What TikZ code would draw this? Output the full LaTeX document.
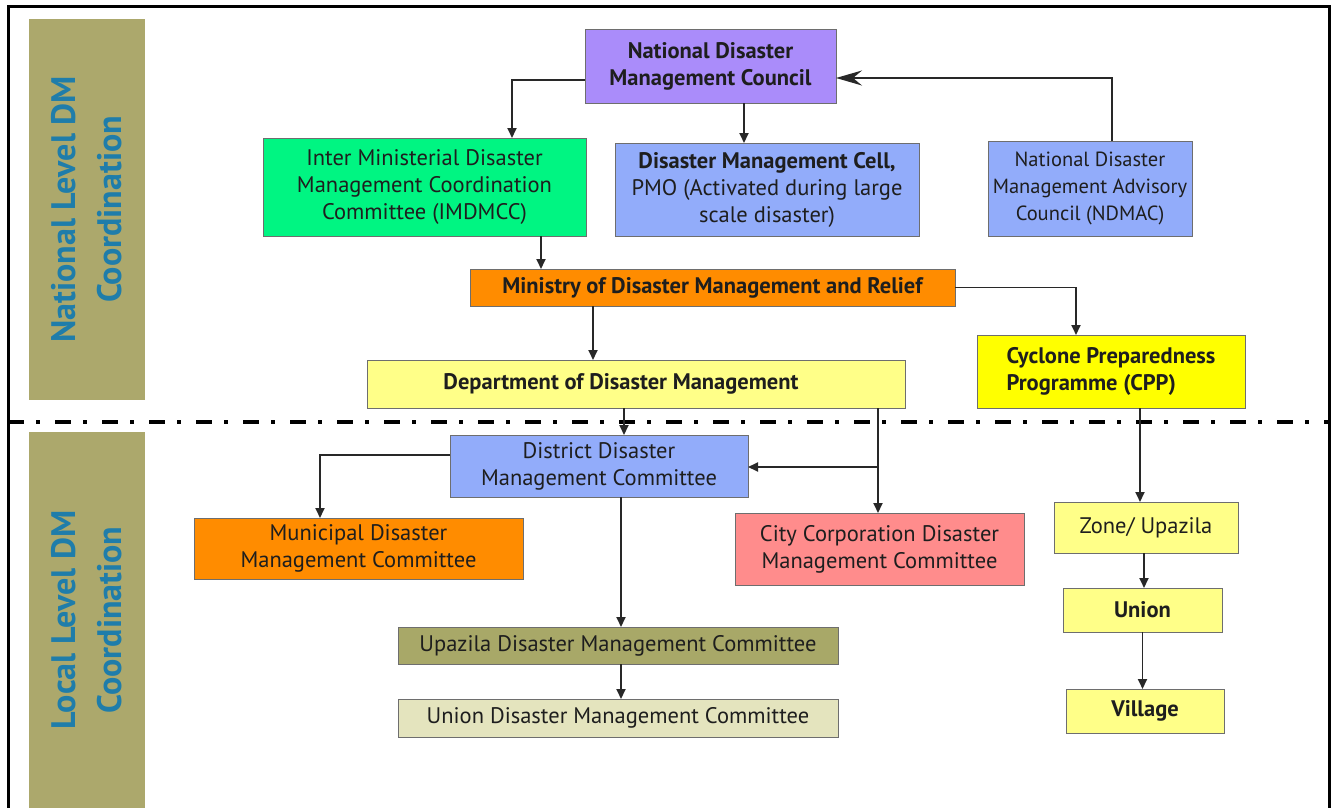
\documentclass[tikz,border=0pt]{standalone}
\usepackage{fontspec}
\setmainfont{PT Sans}
\usetikzlibrary{arrows.meta}
\definecolor{barc}{RGB}{172,168,108}
\definecolor{bartxt}{RGB}{31,125,170}
\definecolor{purp}{RGB}{170,140,250}
\definecolor{grn}{RGB}{0,245,130}
\definecolor{blu}{RGB}{146,172,250}
\definecolor{orng}{RGB}{255,140,0}
\definecolor{lyel}{RGB}{255,255,136}
\definecolor{yel}{RGB}{255,255,0}
\definecolor{pnk}{RGB}{255,140,140}
\definecolor{olv}{RGB}{168,168,104}
\definecolor{beig}{RGB}{228,228,190}
\definecolor{txt}{RGB}{30,30,30}
\definecolor{edge}{RGB}{110,110,110}
\definecolor{arrc}{RGB}{40,40,40}
\newcommand{\boxfont}{\fontsize{22.5}{27}\selectfont}
\tikzset{
  box/.style={draw=edge, line width=1pt, outer sep=0pt, inner sep=2pt, align=center,
    text=txt, font=\boxfont},
  boldbox/.style={box, font=\boxfont\bfseries},
  arr/.style={draw=arrc, line width=1.8pt, -{Triangle[length=10pt,width=9pt]}},
  bigarr/.style={draw=arrc, line width=1.8pt, -{Stealth[length=26pt,width=15pt,inset=9pt]}},
  bartext/.style={rotate=90, text=bartxt, align=center, font=\fontsize{34}{46}\selectfont\bfseries}
}
\begin{document}
\begin{tikzpicture}[x=1pt,y=-1pt]
\useasboundingbox (0,0) rectangle (1336,808);
% frame
\draw[line width=3pt] (8,808) -- (8,7) -- (1329,7) -- (1329,808);
% side bars
\fill[barc] (29,19) rectangle (145,400);
\fill[barc] (29,432) rectangle (145,808);
\node[bartext] (natl) at (87,209.5) {National Level DM\\Coordination};
\node[bartext] (locl) at (87,620) {Local Level DM\\Coordination};
% separator
\draw[line width=3.5pt, dash pattern=on 16pt off 12pt on 4pt off 15pt] (8,422) -- (1329,422);
% nodes
\node[boldbox, fill=purp, minimum width=251pt, minimum height=73pt] (ndmc) at (710.5,66.5) {National Disaster\\Management Council};
\node[box, fill=grn, minimum width=323pt, minimum height=98pt] (imd) at (424.5,187) {Inter Ministerial Disaster\\Management Coordination\\Committee (IMDMCC)};
\node[box, fill=blu, minimum width=304pt, minimum height=93pt] (dmc) at (767,189.5) {\textbf{Disaster Management Cell,}\\PMO (Activated during large\\scale disaster)};
\node[box, fill=blu, minimum width=204pt, minimum height=95pt, font=\fontsize{20.5}{27}\selectfont] (ndmac) at (1090,188.5) {National Disaster\\Management Advisory\\Council (NDMAC)};
\node[boldbox, fill=orng, minimum width=485pt, minimum height=37pt] (min) at (712.5,287.5) {Ministry of Disaster Management and Relief};
\node[boldbox, fill=lyel, minimum width=538pt, minimum height=48pt] (dept) at (636,384) {\hspace*{-30pt}Department of Disaster Management};
\node[boldbox, fill=yel, minimum width=268pt, minimum height=73pt, align=left] (cpp) at (1111,371.5) {Cyclone Preparedness\\Programme (CPP)};
\node[box, fill=blu, minimum width=298pt, minimum height=62pt] (dist) at (599,466) {District Disaster\\Management Committee};
\node[box, fill=orng, minimum width=329pt, minimum height=61pt] (muni) at (358.5,548.5) {Municipal Disaster\\Management Committee};
\node[box, fill=pnk, minimum width=289pt, minimum height=72pt] (city) at (879.5,549) {City Corporation Disaster\\Management Committee};
\node[box, fill=lyel, minimum width=184pt, minimum height=51pt] (zone) at (1146,527.5) {Zone/ Upazila};
\node[boldbox, fill=lyel, minimum width=159pt, minimum height=44pt] (union) at (1142.5,610) {Union};
\node[boldbox, fill=lyel, minimum width=158pt, minimum height=44pt] (vill) at (1145,711) {Village};
\node[box, fill=olv, minimum width=440pt, minimum height=37pt] (upz) at (618,645.5) {Upazila Disaster Management Committee};
\node[box, fill=beig, minimum width=440pt, minimum height=38pt] (udmc) at (618,718) {Union Disaster Management Committee};
% connectors
\draw[arr] ([yshift=-13.5pt]ndmc.west) -| ([xshift=87.5pt]imd.north);
\draw[arr] ([xshift=33.5pt]ndmc.south) -- ([xshift=-23pt]dmc.north);
\draw[bigarr] ([xshift=22pt]ndmac.north) |- ([yshift=-11.5pt]ndmc.east);
\draw[arr] ([xshift=116.5pt]imd.south) -- ([xshift=-171.5pt]min.north);
\draw[arr] ([xshift=-119.5pt]min.south) -- ([xshift=-43pt]dept.north);
\draw[arr] (min.east) -| ([xshift=-35pt]cpp.north);
\draw[arr] ([xshift=-12pt]dept.south) -- ([xshift=25pt]dist.north);
\draw[arr] ([xshift=242pt]dept.south) -- ([xshift=-1.5pt]city.north);
\coordinate (br) at ([xshift=242pt,yshift=-59pt]dept.south);
\draw[arr] (br) -- (br -| dist.east);
\draw[arr] ([yshift=11pt]dist.west) -| ([xshift=-38.5pt]muni.north);
\draw[arr] ([xshift=22pt]dist.south) -- ([xshift=22pt]dist.south |- upz.north);
\draw[arr] ([xshift=3pt]upz.south) -- ([xshift=3pt]udmc.north);
\draw[arr] ([xshift=29pt]cpp.south) -- ([xshift=29pt]cpp.south |- zone.north);
\draw[arr] ([xshift=-2pt]zone.south) -- ([xshift=-2pt]zone.south |- union.north);
\draw[arr] (union.south) -- (union.south |- vill.north);
\end{tikzpicture}
\end{document}
